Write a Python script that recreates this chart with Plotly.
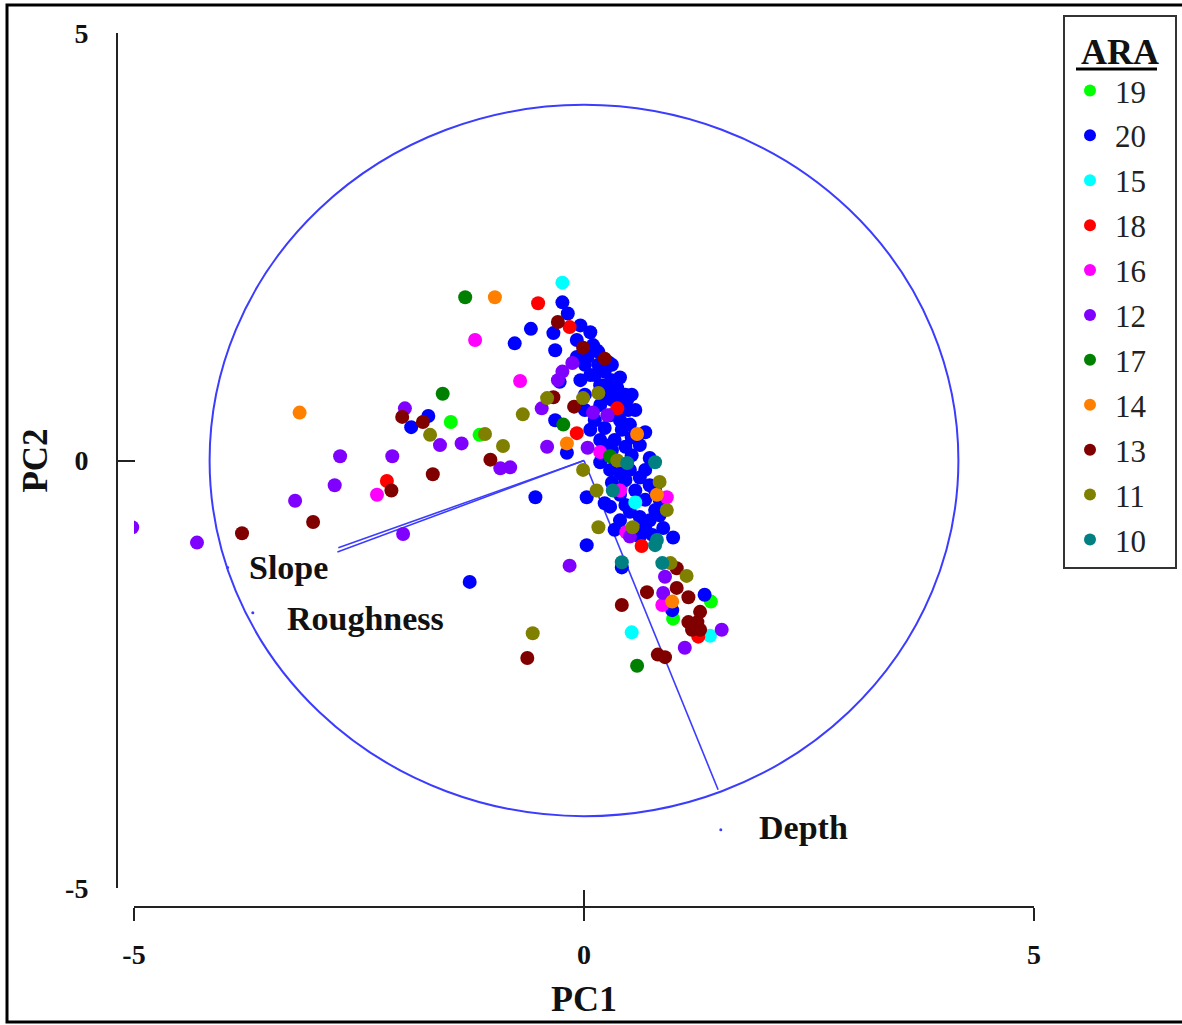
import plotly.graph_objects as go

# ---------------- data ----------------
groups = ["19", "20", "15", "18", "16", "12", "17", "14", "13", "11", "10"]
colors = ["#00ff00", "#0000ff", "#00ffff", "#ff0000", "#ff00ff", "#8000ff",
          "#008000", "#ff8000", "#800000", "#808000", "#008080"]

x19 = [-1.48, -1.16, 0.41, 1.41, 0.99]
y19 = [0.45, 0.30, -0.32, -1.65, -1.85]

x20 = [-0.24, -0.18, -0.34, -0.59, -0.04, 0.07, -0.77, -0.32, -0.08, -0.08, -0.27, 0.10, 0.04,
       0.16, 0.23, 0.07, -0.04, 0.31, 0.18, 0.34, 0.01, 0.12, 0.23, 0.40, 0.49, 0.51, 0.34, 0.46,
       0.62, 0.68, -0.32, -0.19, -1.92, -1.73, 0.03, -0.54, 0.18, 0.40, 0.51, 0.62, 0.73, 0.31,
       0.57, 0.68, 0.79, 0.46, 0.29, 0.62, 0.73, 0.88, 0.99, 0.40, 0.03, 0.42, 0.23, 0.53, 0.31,
       0.18, 0.29, 0.40, 0.01, 0.14, -1.27, 1.34, 0.98, 0.68, 0.76, 0.46, 0.23, 0.57, 0.31, 0.40,
       0.53, 0.23, 0.73, 0.84, 0.34, 0.62,
       0.01, 0.12, 0.23, 0.37, 0.48, 0.31, 0.42, 0.53, 0.18, 0.07, 0.29, 0.46, 0.68, 0.79, 0.40,
       0.51, 0.84, 0.16, 0.27]
y20 = [1.85, 1.72, 1.49, 1.54, 1.58, 1.50, 1.37, 1.29, 1.41, 1.21, 0.92, 1.35, 1.21,
       1.12, 1.04, 1.00, 0.94, 0.94, 0.88, 0.80, 0.59, 0.47, 0.38, 0.47, 0.59, 0.42, 0.24, 0.16,
       0.18, 0.33, 0.47, 0.09, 0.39, 0.52, -0.43, -0.43, -0.02, -0.15, -0.11, -0.20, -0.29, -0.26,
       -0.35, -0.46, -0.58, -0.52, -0.54, -0.66, -0.70, -0.79, -0.90, -0.70, -0.99, -1.25, -0.50, 0.06, 0.12,
       0.65, 0.53, 0.71, 0.77, 1.29, -1.42, -1.57, -1.75, -0.79, -0.87, 0.77, 0.77, 0.59, 1.12, 0.97,
       0.77, 0.18, 0.03, -0.46, -0.81, -0.89,
       1.12, 1.00, 0.88, 0.85, 0.71, 0.71, 0.36, 0.27, 0.24, 0.36, -0.11, -0.23, -0.11, -0.35, -0.40,
       -0.60, -0.64, 1.27, 1.15]

x15 = [-0.24, 0.57, 0.53, 1.40]
y15 = [2.08, -0.49, -2.01, -2.05]

x18 = [-0.51, -0.16, 0.37, -0.08, -2.19, 0.64, 1.27]
y18 = [1.84, 1.56, 0.61, 0.32, -0.24, -1.00, -2.06]

x16 = [-1.21, -0.71, -2.30, 0.18, 0.40, 0.92, 0.47, 0.87]
y16 = [1.41, 0.93, -0.40, 0.10, -0.35, -0.43, -0.84, -1.69]

x12 = [-5.02, -4.30, -3.21, -2.77, -2.71, -2.13, -1.99, -2.01, -1.60, -1.36, -0.93, -0.82, -0.47,
       -0.41, -0.13, -0.24, -0.29, 0.10, 0.26, 0.04, 0.51, -0.16, 0.90, 0.88, 1.53, 1.12]
y12 = [-0.78, -0.96, -0.47, -0.29, 0.05, 0.05, 0.61, -0.86, 0.18, 0.20, -0.09, -0.08, 0.61,
       0.16, 1.14, 1.04, 0.94, 0.56, 0.53, 0.15, -0.89, -1.23, -1.36, -1.55, -1.98, -2.19]

x17 = [-1.32, -1.57, -0.23, 0.29, 0.59]
y17 = [1.91, 0.78, 0.42, 0.05, -2.40]

x14 = [-3.16, -0.99, -0.19, 0.59, 0.81, 0.98]
y14 = [0.56, 1.91, 0.20, 0.31, -0.40, -1.65]

x13 = [-3.80, -3.01, -2.14, -1.68, -2.02, -1.79, -1.04, -0.34, -0.29, -0.01, 0.23, -0.11, -0.63,
       0.42, 0.70, 1.03, 1.03, 1.16, 1.29, 1.26, 1.16, 1.20, 1.29, 0.82, 0.90]
y13 = [-0.85, -0.72, -0.35, -0.16, 0.51, 0.45, 0.01, 0.74, 1.62, 1.32, 1.19, 0.63, -2.31,
       -1.69, -1.54, -1.26, -1.49, -1.60, -1.77, -1.89, -1.89, -1.98, -1.98, -2.27, -2.30]

x11 = [-1.71, -1.10, -0.90, -0.68, -0.41, -0.01, 0.16, -0.01, 0.37, 0.14, 0.84, 0.92, 0.16, 0.54,
       0.96, 1.14, -0.57]
y11 = [0.30, 0.31, 0.17, 0.54, 0.73, 0.73, 0.79, -0.11, 0.00, -0.35, -0.25, -0.58, -0.78, -0.78,
       -1.20, -1.35, -2.02]

x10 = [0.48, 0.79, 0.32, 0.81, 0.42, 0.87, 0.79]
y10 = [-0.03, -0.02, -0.35, -0.93, -1.19, -1.20, -0.99]

# loading vectors (PCA variables)
vec_names = ["Slope", "Roughness", "Depth"]
vec_x = [-2.73, -2.74, 1.49]
vec_y = [-1.02, -1.07, -3.85]
label_x = [-3.28, -2.43, 2.44]
label_y = [-1.25, -1.85, -4.29]
anchor_x = [-3.96, -3.68, 1.52]
anchor_y = [-1.25, -1.78, -4.32]
circle_r = 4.16

xs = [x19, x20, x15, x18, x16, x12, x17, x14, x13, x11, x10]
ys = [y19, y20, y15, y18, y16, y12, y17, y14, y13, y11, y10]

# ---------------- figure ----------------
fig = go.Figure()

serif = "Liberation Serif, Times New Roman, serif"
blue_line = "#3c3cff"
NB = "\u00a0"

# circle
fig.add_shape(type="circle", xref="x", yref="y", x0=-circle_r, x1=circle_r,
              y0=-circle_r, y1=circle_r, line=dict(color=blue_line, width=2), layer="below")

# vectors
for i, name in enumerate(vec_names):
    fig.add_trace(go.Scatter(x=[0, vec_x[i]], y=[0, vec_y[i]], mode="lines",
                             line=dict(color=blue_line, width=1.6), showlegend=False,
                             hoverinfo="skip"))
fig.add_trace(go.Scatter(x=anchor_x, y=anchor_y, mode="markers",
                         marker=dict(color=blue_line, size=3), showlegend=False, hoverinfo="skip"))

# points
for i, g in enumerate(groups):
    fig.add_trace(go.Scatter(x=xs[i], y=ys[i], mode="markers", name=g + NB * 3, legendgroup=g,
                             marker=dict(color=colors[i], size=14, symbol="circle",
                                         line=dict(width=0))))

# vector labels
for i, name in enumerate(vec_names):
    fig.add_annotation(x=label_x[i], y=label_y[i], text="<b>" + name + "</b>", showarrow=False,
                       font=dict(family=serif, size=34, color="#111111"),
                       xanchor="center", yanchor="middle")

W, H = 1182, 1025
ml, mr, mt, mb = 100, 148, 15, 95
pw, ph = W - ml - mr, H - mt - mb


def px(xpix):
    return (xpix - ml) / pw


def py(ypix):
    return 1 - (ypix - mt) / ph


axis_font = dict(family=serif, size=28, color="#111111")

fig.update_layout(
    width=W, height=H,
    margin=dict(l=ml, r=mr, t=mt, b=mb, autoexpand=False),
    paper_bgcolor="white", plot_bgcolor="white",
    showlegend=True,
    xaxis=dict(range=[-5, 5], domain=[px(134), 1], anchor="free", position=py(907),
               tickvals=[-5, 0, 5], ticktext=["<b>-5</b>", "<b>0</b>", "<b>5</b>"],
               ticks="outside", ticklen=13, tickwidth=2, tickcolor="#222222",
               showline=True, linecolor="#222222", linewidth=2,
               showgrid=False, zeroline=False, tickfont=axis_font, ticklabelstandoff=9,
               title=dict(text="<b>PC1</b>", font=dict(family=serif, size=36, color="#111111"),
                          standoff=16)),
    xaxis2=dict(range=[-5, 5], domain=[px(134), 1], anchor="free", position=py(907),
                overlaying="x", tickvals=[-5, 0, 5], ticks="inside", ticklen=17, tickwidth=2,
                tickcolor="#222222", showticklabels=False, showline=False, showgrid=False,
                zeroline=False),
    yaxis=dict(range=[-5, 5], domain=[py(888), py(33)], anchor="free", position=px(117),
               tickvals=[-5, 0, 5], ticktext=["<b>-5</b>", "<b>0</b>", "<b>5</b>"],
               ticks="inside", ticklen=17, tickwidth=2, tickcolor="#222222",
               showline=True, linecolor="#222222", linewidth=2,
               showgrid=False, zeroline=False, tickfont=axis_font, ticklabelstandoff=22,
               title=dict(text="<b>PC2</b>", font=dict(family=serif, size=35, color="#111111"),
                          standoff=6)),
    legend=dict(x=px(1063), y=1, xanchor="left", yanchor="top",
                bordercolor="#333333", borderwidth=2, bgcolor="rgba(0,0,0,0)",
                font=dict(family=serif, size=31, color="#222222"),
                title=dict(text="<b>ARA</b>", font=dict(family=serif, size=36, color="#111111"),
                           side="top center"),
                tracegroupgap=1.6, itemwidth=40, itemsizing="constant"),
)

# dummy trace so xaxis2 is drawn
fig.add_trace(go.Scatter(x=[None], y=[None], xaxis="x2", showlegend=False, hoverinfo="skip"))

# legend title underline
fig.add_shape(type="line", xref="paper", yref="paper", x0=px(1076), x1=px(1157),
              y0=py(69), y1=py(69), line=dict(color="black", width=3))
# outer frame
fig.add_shape(type="rect", xref="paper", yref="paper", x0=px(7), x1=px(1190),
              y0=py(1022), y1=py(5), line=dict(color="black", width=3))

fig.write_html("out.html")
